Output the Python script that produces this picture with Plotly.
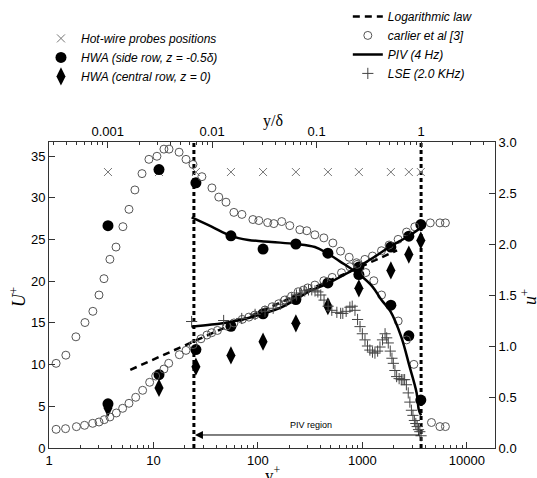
import numpy as np
import plotly.graph_objects as go

# ---------------- data ----------------
# Hot-wire probe positions (y+) and the height at which they are marked (U+)
probe_yp = [3.67, 11.3, 25.5, 55.2, 112, 231, 468, 926, 1875, 2786, 3630]
probe_U = [33.1, 33.1, 33.1, 33.1, 33.1, 33.1, 33.1, 33.1, 33.1, 33.1, 33.1]

# HWA side row (z = -0.5 delta)
hwa_side_U = [5.3, 8.8, 11.8, 14.6, 16.1, 17.8, 19.8, 21.7, 24.1, 25.4, 26.8]
hwa_side_u = [2.18, 2.73, 2.60, 2.08, 1.95, 2.00, 1.91, 1.70, 1.40, 1.10, 0.47]

# HWA central row (z = 0)
hwa_central_U = [4.8, 7.2, 9.75, 11.1, 12.75, 14.95, 17.0, 19.15, 21.3, 23.2, 24.9]

# Logarithmic law end points
loglaw_yp = [6.0, 2150]
loglaw_U = [9.37, 23.7]

# Carlier et al [3] - mean velocity
carlier_yp_U = [1.17, 1.44, 1.83, 2.19, 2.62, 3.01, 3.38, 3.83, 4.41, 5.07, 5.83, 6.76,
                7.88, 9.2, 10.5, 12.6, 14.0, 17.7, 20.5, 24.0, 28.5, 32.5, 36.1, 41.0,
                50.1, 59, 70.8, 82, 93.5, 117, 137, 158, 181, 210, 243, 272, 300, 351,
                428, 514, 632, 759, 879, 1057, 1251, 1526, 1804, 2201, 2649, 3179,
                4470, 5530, 6240]
carlier_U = [2.24, 2.32, 2.56, 2.72, 2.96, 3.12, 3.40, 3.72, 4.20, 4.76, 5.36, 6.08,
             6.92, 7.88, 8.63, 9.47, 10.16, 11.19, 11.71, 12.4, 13.1, 13.55, 13.83, 14.1,
             14.63, 15.0, 15.43, 15.7, 15.95, 16.55, 16.94, 17.3, 17.75, 18.2, 18.74, 18.94,
             19.2, 19.54, 20.06, 20.46, 21.02, 21.74, 22.22, 22.62, 23.02, 23.66, 24.34,
             25.02, 25.9, 26.53, 27.0, 27.0, 27.0]

# Carlier et al [3] - velocity fluctuations
carlier_yp_u = [1.17, 1.45, 1.81, 2.21, 2.63, 3.01, 3.36, 3.83, 4.38, 5.10, 5.83, 6.64,
                7.77, 9.05, 10.8, 12.6, 14.1, 17.6, 20.5, 23.9, 29.1, 36.3, 42.2, 49.5,
                58.9, 70.3, 89.6, 102, 124, 142, 169, 202, 252, 294, 351, 428, 522, 618,
                748, 892, 1079, 1288, 1526, 2203, 2648, 3113, 4590, 5530, 6240]
carlier_u = [0.83, 0.91, 1.09, 1.23, 1.34, 1.50, 1.66, 1.85, 1.97, 2.17, 2.34, 2.53,
             2.69, 2.83, 2.86, 2.93, 2.93, 2.90, 2.83, 2.78, 2.66, 2.55, 2.46, 2.41,
             2.31, 2.29, 2.24, 2.23, 2.21, 2.20, 2.22, 2.18, 2.14, 2.13, 2.09, 2.06,
             2.01, 1.93, 1.87, 1.80, 1.72, 1.64, 1.50, 1.245, 1.06, 0.82, 0.25, 0.21, 0.21]

# PIV (4 Hz)
piv_yp_U = [23.2, 36, 55.7, 81, 116, 170, 231, 313, 468, 700, 916, 1300, 1830, 2786, 3720]
piv_U = [14.55, 14.8, 15.15, 15.6, 16.15, 16.9, 17.83, 18.8, 19.75, 20.9, 21.74, 22.9,
         24.14, 25.42, 26.5]
piv_yp_u = [23.2, 36, 55, 81, 135, 231, 351, 460, 609, 936, 1254, 1526, 1858, 2358,
            2830, 3310, 3480, 3650]
piv_u = [2.26, 2.17, 2.08, 2.04, 2.02, 2.0, 1.97, 1.91, 1.83, 1.70, 1.58, 1.45, 1.34,
         1.09, 0.80, 0.54, 0.37, 0.32]

# LSE (2.0 kHz)
lse_yp = [23.2, 47, 70, 94, 117, 140, 164, 187, 211, 234, 258, 281, 305, 328, 352, 375,
          400, 430, 470, 510, 570, 620, 650, 700, 760, 800, 850, 900, 950, 1000, 1060,
          1120, 1180, 1250, 1320, 1400, 1475, 1560, 1650, 1710, 1770, 1850, 1920, 1980,
          2050, 2130, 2250, 2360, 2450, 2540, 2640, 2750, 2850, 2950, 3050, 3150, 3250,
          3350, 3450, 3550, 3650]
lse_u = [1.24, 1.25, 1.27, 1.31, 1.34, 1.37, 1.41, 1.44, 1.47, 1.50, 1.52, 1.54, 1.55,
         1.55, 1.54, 1.53, 1.50, 1.45, 1.39, 1.35, 1.33, 1.32, 1.32, 1.34, 1.38, 1.39,
         1.35, 1.26, 1.19, 1.12, 1.06, 1.00, 0.96, 0.94, 0.93, 0.95, 0.99, 1.06, 1.12,
         1.08, 1.03, 0.95, 0.88, 0.83, 0.76, 0.70, 0.68, 0.67, 0.67, 0.67, 0.62, 0.54,
         0.45, 0.37, 0.32, 0.27, 0.24, 0.21, 0.18, 0.16, 0.12]

# PIV region bounds (y+) and boundary-layer thickness in wall units
piv_bounds = [24.4, 3650]
delta_plus = 3650
piv_arrow_level = 1.56

# axes
x_range_log = [0, 4.27]
U_range = [0, 36.7]
u_range = [0, 3.0]
top_ticks = [0.001, 0.01, 0.1, 1]
top_ticktext = ["0.001", "0.01", "0.1", "1"]

# ---------------- figure ----------------
SANS = "Liberation Sans"
SERIF = "Liberation Serif"
fig = go.Figure()

# vertical PIV bounds (dashed)
for xb in piv_bounds:
    fig.add_trace(go.Scatter(x=[xb, xb], y=U_range, mode="lines",
                             line=dict(color="black", width=3, dash="4px,3px"),
                             showlegend=False, hoverinfo="skip"))

# Legend 1 (left column)
fig.add_trace(go.Scatter(x=probe_yp, y=probe_U, mode="markers", name="Hot-wire probes positions",
                         marker=dict(symbol="x-thin-open", size=8, color="#777",
                                     line=dict(color="#777", width=1)),
                         legend="legend"))
fig.add_trace(go.Scatter(x=probe_yp, y=hwa_side_U, mode="markers", name="HWA (side row, z = -0.5δ)",
                         marker=dict(symbol="circle", size=11, color="black"),
                         legend="legend", legendgroup="side"))
fig.add_trace(go.Scatter(x=probe_yp, y=hwa_side_u, mode="markers", name="HWA side u",
                         marker=dict(symbol="circle", size=11, color="black"),
                         yaxis="y2", showlegend=False, legendgroup="side"))
fig.add_trace(go.Scatter(x=probe_yp, y=hwa_central_U, mode="markers", name="HWA (central row, z = 0)",
                         marker=dict(symbol="diamond-tall", size=13, color="black"),
                         legend="legend"))

# Legend 2 (right column)
fig.add_trace(go.Scatter(x=loglaw_yp, y=loglaw_U, mode="lines", name="Logarithmic law",
                         line=dict(color="black", width=2.5, dash="7px,5px"),
                         legend="legend2"))
fig.add_trace(go.Scatter(x=carlier_yp_U, y=carlier_U, mode="markers", name="carlier et al [3]",
                         marker=dict(symbol="circle-open", size=8, color="#555",
                                     line=dict(color="#555", width=1)),
                         legend="legend2", legendgroup="carlier"))
fig.add_trace(go.Scatter(x=carlier_yp_u, y=carlier_u, mode="markers", name="carlier u",
                         marker=dict(symbol="circle-open", size=8, color="#555",
                                     line=dict(color="#555", width=1)),
                         yaxis="y2", showlegend=False, legendgroup="carlier"))
fig.add_trace(go.Scatter(x=piv_yp_U, y=piv_U, mode="lines", name="PIV (4 Hz)",
                         line=dict(color="black", width=2.5, shape="spline"),
                         legend="legend2", legendgroup="piv"))
fig.add_trace(go.Scatter(x=piv_yp_u, y=piv_u, mode="lines", name="PIV u",
                         line=dict(color="black", width=2.5, shape="spline"),
                         yaxis="y2", showlegend=False, legendgroup="piv"))
fig.add_trace(go.Scatter(x=lse_yp, y=lse_u, mode="markers", name="LSE (2.0 KHz)",
                         marker=dict(symbol="cross-thin-open", size=8, color="#444",
                                     line=dict(color="#444", width=1)),
                         yaxis="y2", legend="legend2"))

# dummy trace for the top axis
fig.add_trace(go.Scatter(x=[top_ticks[0]], y=[None], xaxis="x2", showlegend=False,
                         hoverinfo="skip", mode="markers"))

# PIV region arrow + label
fig.add_annotation(x=np.log10(piv_bounds[0]) + 0.01, y=piv_arrow_level,
                   ax=np.log10(piv_bounds[1]), ay=piv_arrow_level,
                   xref="x", yref="y", axref="x", ayref="y",
                   showarrow=True, arrowhead=2, arrowsize=1.6, arrowwidth=1,
                   arrowcolor="black", text="")
fig.add_annotation(x=np.log10(np.sqrt(piv_bounds[0] * piv_bounds[1])) + 0.03,
                   y=piv_arrow_level, yshift=10, xref="x", yref="y",
                   text="PIV region", showarrow=False,
                   font=dict(family=SANS, size=9, color="black"))

# axis titles (placed as paper annotations, as in the reference)
title_font = dict(family=SERIF, size=18, color="black")
fig.add_annotation(x=0.502, y=-0.085, xref="paper", yref="paper", text="y<sup>+</sup>",
                   xanchor="center", yanchor="middle", showarrow=False,
                   font=dict(family=SERIF, size=17, color="black"))
fig.add_annotation(x=0.502, y=1.069, xref="paper", yref="paper", text="y/δ",
                   xanchor="center", yanchor="middle", showarrow=False,
                   font=dict(family=SERIF, size=16, color="black"))
fig.add_annotation(x=-0.07, y=0.493, xref="paper", yref="paper", text="<i>U</i><sup>+</sup>",
                   xanchor="center", yanchor="middle", textangle=-90, showarrow=False,
                   font=title_font)
fig.add_annotation(x=1.076, y=0.493, xref="paper", yref="paper", text="<i>u</i><sup>+</sup>",
                   xanchor="center", yanchor="middle", textangle=-90, showarrow=False,
                   font=title_font)

minor_vals = [m * 10 ** d for d in range(0, 5) for m in range(2, 10)]
top_minor = [m * 10 ** d for d in range(-4, 1) for m in range(2, 10)]

axis_common = dict(showline=True, linecolor="#333", linewidth=1, ticks="inside",
                   tickcolor="#333", showgrid=False, zeroline=False, automargin=False,
                   tickfont=dict(family=SANS, size=13, color="black"))

legend_font = dict(family=SANS, size=12, color="black", style="italic")

fig.update_layout(
    width=537, height=478,
    margin=dict(l=49, r=42, t=142, b=30),
    paper_bgcolor="white", plot_bgcolor="white",
    xaxis=dict(type="log", range=x_range_log, tickvals=[1, 10, 100, 1000, 10000],
               ticktext=["1", "10", "100", "1000", "10000"], ticklen=6,
               minor=dict(ticks="inside", ticklen=3, tickcolor="#333", tickvals=minor_vals),
               **axis_common),
    xaxis2=dict(type="log", overlaying="x", side="top", anchor="y",
                range=[x_range_log[0] - np.log10(delta_plus), x_range_log[1] - np.log10(delta_plus)],
                tickvals=top_ticks, ticktext=top_ticktext, ticklen=6,
                minor=dict(ticks="inside", ticklen=3, tickcolor="#333", tickvals=top_minor),
                **axis_common),
    yaxis=dict(range=U_range, tickvals=[0, 5, 10, 15, 20, 25, 30, 35], ticklen=6,
               **axis_common),
    yaxis2=dict(range=u_range, overlaying="y", side="right", anchor="x",
                tickvals=[0, 0.5, 1.0, 1.5, 2.0, 2.5, 3.0],
                ticktext=["0.0", "0.5", "1.0", "1.5", "2.0", "2.5", "3.0"], ticklen=6,
                **axis_common),
    legend=dict(xref="paper", yref="container", x=-0.018, y=0.950,
                xanchor="left", yanchor="top",
                bgcolor="rgba(0,0,0,0)", tracegroupgap=0, font=legend_font),
    legend2=dict(xref="paper", yref="container", x=0.670, y=0.996,
                 xanchor="left", yanchor="top",
                 bgcolor="rgba(0,0,0,0)", tracegroupgap=0, font=legend_font),
    showlegend=True,
)

fig.write_html("out.html", config={"displayModeBar": False},
               post_script="document.body.style.margin='0px';")
